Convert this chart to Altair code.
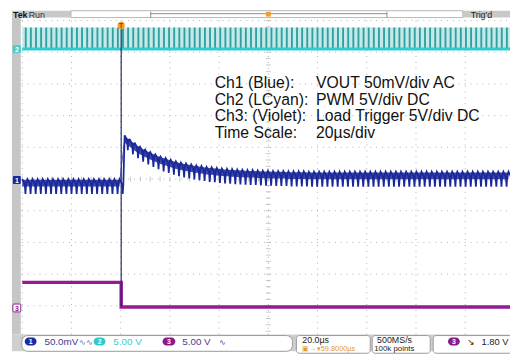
import altair as alt
import pandas as pd

# ---------------- values ----------------
us_per_div = 20.0
trigger_us = -59.8
trace_start_us = -100.0
switch_period_us = 2.08

# Ch1 VOUT (screen divisions, 50 mV/div AC): top of ripple band, one value per switching cycle
vout_top_pre = [0.0, 0.0, 0.0, 0.0, 0.0, 0.0, 0.0, 0.0, 0.0, 0.0,
                0.0, 0.0, 0.0, 0.0, 0.0, 0.0, 0.0, 0.0, 0.0, 0.0]
vout_top_post = [1.38, 1.25, 1.13, 1.02, 0.93, 0.85, 0.78, 0.71, 0.66, 0.61,
                 0.56, 0.52, 0.49, 0.46, 0.43, 0.41, 0.38, 0.37, 0.35, 0.33,
                 0.32, 0.31, 0.30, 0.29, 0.28, 0.28, 0.27, 0.26, 0.26, 0.25,
                 0.25, 0.25, 0.24, 0.24, 0.24, 0.24, 0.23, 0.23, 0.23, 0.23,
                 0.23, 0.23, 0.23, 0.23, 0.23, 0.23, 0.23, 0.23, 0.23, 0.23,
                 0.23, 0.23, 0.23, 0.23, 0.23, 0.23, 0.23, 0.23, 0.23, 0.23,
                 0.23, 0.23, 0.23, 0.23, 0.23, 0.23, 0.23, 0.23, 0.23, 0.23,
                 0.23, 0.23, 0.23, 0.23, 0.23, 0.23]
vout_ripple_pp = 0.47
ripple_phase = [0.0, 0.3, 0.5, 0.62, 0.75]
ripple_depth = [0.0, 0.2, 0.4, 1.0, 0.3]
band_depth = [0.05, 0.5]

# Ch2 PWM (screen divisions)
pwm_low = 4.10
pwm_high = 4.78
pwm_on_us = 0.75
pwm_phase = 0.5

# Ch3 load trigger (screen divisions): before / after the trigger
load_levels = [-3.26, -4.04]

# graticule
grid_x_div = [-5, -4, -3, -2, -1, 0, 1, 2, 3, 4, 5]
grid_y_div = [-5, -4, -3, -2, -1, 0, 1, 2, 3, 4, 5]

legend_labels = ["Ch1 (Blue):", "Ch2 (LCyan):", "Ch3: (Violet):", "Time Scale:"]
legend_values = ["VOUT 50mV/div AC", "PWM 5V/div DC", "Load Trigger 5V/div DC", "20µs/div"]

# ---------------- tables built from the values ----------------
tops = vout_top_pre + vout_top_post
vout_rows, band_rows, pwm_rows = [], [], []
for k, top in enumerate(tops):
    t0 = trace_start_us + k * switch_period_us
    for ph, dp in zip(ripple_phase, ripple_depth):
        vout_rows.append({"t": t0 + ph * switch_period_us, "v": top - vout_ripple_pp * dp})
    band_rows.append({"t": t0, "hi": top - vout_ripple_pp * band_depth[0],
                      "lo": top - vout_ripple_pp * band_depth[1]})
    ts = t0 + pwm_phase * switch_period_us
    pwm_rows.append({"t": ts, "t2": ts + pwm_on_us, "lo": pwm_low, "hi": pwm_high})
vout = pd.DataFrame(vout_rows)
vout["i"] = range(len(vout))
band = pd.DataFrame(band_rows)
pwm = pd.DataFrame(pwm_rows)

t_end = trace_start_us + len(tops) * switch_period_us
load = pd.DataFrame({
    "t": [trace_start_us, trigger_us, trigger_us, t_end],
    "v": [load_levels[0], load_levels[0], load_levels[1], load_levels[1]],
    "i": [0, 1, 2, 3],
})
pwm_base = pd.DataFrame({"t": [trace_start_us, t_end], "v": [pwm_low, pwm_low]})
pwm_band = pd.DataFrame({"t": [trace_start_us], "t2": [t_end], "lo": [pwm_low], "hi": [pwm_high]})
trig = pd.DataFrame({"t": [trigger_us], "lo": [load_levels[1]], "hi": [pwm_high]})

gx = pd.DataFrame({"t": [d * us_per_div for d in grid_x_div]})
gy = pd.DataFrame({"v": grid_y_div})
minor_v = pd.DataFrame({"v": [i / 5 for i in range(-25, 26)]})
minor_t = pd.DataFrame({"t": [i * us_per_div / 5 for i in range(-25, 26)]})

xs = alt.Scale(domain=[-105.8, 98.2], nice=False, zero=False)
ys = alt.Scale(domain=[-5.435, 5.311], nice=False, zero=False)
X = lambda f: alt.X(f, type="quantitative", scale=xs, axis=None)
Y = lambda f: alt.Y(f, type="quantitative", scale=ys, axis=None)

dummy = pd.DataFrame({"d": [0]})


def box(x1, x2, y1, y2, fill, stroke=None, r=0, sw=1):
    kw = dict(fill=fill, cornerRadius=r)
    if stroke:
        kw["stroke"] = stroke
        kw["strokeWidth"] = sw
    return alt.Chart(dummy).mark_rect(**kw).encode(
        x=alt.value(x1), x2=alt.value(x2), y=alt.value(y1), y2=alt.value(y2))


def label(txt, x, y, size=10, color="#111111", weight="normal",
          font="Liberation Sans", align="left", baseline="alphabetic"):
    return alt.Chart(dummy).mark_text(
        text=txt, fontSize=size, color=color, fontWeight=weight, font=font,
        align=align, baseline=baseline).encode(x=alt.value(x), y=alt.value(y))


layers = []
# frames / bars
layers.append(box(4, 13, 7, 329, "#c6c6c6"))
layers.append(box(4, 510, 329, 346, "#cfcfcf"))
layers.append(box(4, 64, 0, 7, "#c8c8c8"))
layers.append(box(64, 462, 0, 7, "#ffffff", stroke="#b5b5b5"))
layers.append(box(462, 510, 0, 7, "#c8c8c8"))

# graticule
layers.append(alt.Chart(gx).mark_rule(color="#b0b0b0", strokeDash=[1, 5], strokeWidth=1).encode(
    x=X("t"), y=alt.value(10), y2=alt.value(332)))
layers.append(alt.Chart(gy).mark_rule(color="#b0b0b0", strokeDash=[1, 5], strokeWidth=1).encode(
    y=Y("v"), x=alt.value(14), x2=alt.value(510)))
layers.append(alt.Chart(minor_v).mark_tick(orient="horizontal", size=5, color="#b0b0b0", thickness=1).encode(
    y=Y("v"), x=alt.value(264.5)))
layers.append(alt.Chart(minor_t).mark_tick(orient="vertical", size=5, color="#b0b0b0", thickness=1).encode(
    x=X("t"), y=alt.value(171)))

# Ch2 PWM
layers.append(alt.Chart(pwm_band).mark_rect(color="#c4e9e9").encode(
    x=X("t"), x2="t2", y=Y("lo"), y2="hi"))
layers.append(alt.Chart(pwm).mark_rect(color="#2f9f9f").encode(
    x=X("t"), x2="t2", y=Y("lo"), y2="hi"))
layers.append(alt.Chart(pwm_base).mark_line(color="#33cccc", strokeWidth=3).encode(
    x=X("t"), y=Y("v")))

# Ch3 load trigger
layers.append(alt.Chart(load).mark_line(color="#961a93", strokeWidth=3.5).encode(
    x=X("t"), y=Y("v"), order="i:Q"))

# Ch1 VOUT
layers.append(alt.Chart(band).mark_area(color="#1a289a", opacity=0.85).encode(
    x=X("t"), y=Y("hi"), y2="lo"))
layers.append(alt.Chart(vout).mark_line(color="#1a289a", strokeWidth=1.8).encode(
    x=X("t"), y=Y("v"), order="i:Q"))

# trigger line
layers.append(alt.Chart(trig).mark_rule(color="#232a6e", strokeWidth=1.2).encode(
    x=X("t"), y=Y("lo"), y2="hi"))

# top bar content
layers.append(label("Tek", 5, 7, size=9, weight="bold"))
layers.append(label("Run", 21, 7, size=9, color="#333333"))
layers.append(alt.Chart(dummy).mark_rule(color="#8a8a8a").encode(
    x=alt.value(145), x2=alt.value(385), y=alt.value(3)))
layers.append(alt.Chart(dummy).mark_rule(color="#8a8a8a").encode(
    x=alt.value(145), y=alt.value(1), y2=alt.value(7)))
layers.append(alt.Chart(dummy).mark_rule(color="#8a8a8a").encode(
    x=alt.value(385), y=alt.value(1), y2=alt.value(7)))
layers.append(box(262, 267, 1, 6, "#f0a030"))
layers.append(label("Trig'd", 470, 7, size=9, color="#222222"))
layers.append(alt.Chart(dummy).mark_point(filled=True, size=55, color="#f0a030", opacity=1).encode(
    x=alt.value(115), y=alt.value(15)))
layers.append(label("T", 115, 18, size=7, color="#8a4a00", weight="bold", align="center"))

# channel markers
layers.append(box(5, 13, 35, 43, "#3fcfcf", r=1))
layers.append(label("2", 9, 42, size=7, color="#ffffff", weight="bold", align="center"))
layers.append(box(5, 13, 168, 176, "#1a289a", r=1))
layers.append(label("1", 9, 175, size=7, color="#ffffff", weight="bold", align="center"))
layers.append(box(5, 13, 298, 306, "#ffffff", stroke="#93168f", r=1))
layers.append(label("3", 9, 305, size=7, color="#93168f", weight="bold", align="center"))

# annotation text block
for i, (a, b) in enumerate(zip(legend_labels, legend_values)):
    layers.append(label(a, 210, 78.5 + 17 * i, size=16))
    layers.append(label(b, 313, 78.5 + 17 * i, size=16))

# status bar
layers.append(box(14, 289, 330, 346, "#ffffff", stroke="#9a9a9a", r=6))
layers.append(box(293, 368, 330, 348, "#ffffff", stroke="#9a9a9a", r=3))
layers.append(box(370, 429, 330, 348, "#ffffff", stroke="#9a9a9a", r=3))
layers.append(box(432, 512, 330, 348, "#ffffff", stroke="#9a9a9a", r=3))
layers.append(box(17, 29, 332, 340, "#1c2ca0", r=4))
layers.append(label("1", 23, 339, size=7, color="#ffffff", weight="bold", align="center"))
layers.append(label("50.0mV", 37, 340, size=10, color="#2d3f96"))
layers.append(label("∿∿", 72, 340, size=8, color="#5a6ea8"))
layers.append(box(87, 99, 332, 340, "#30c8c8", r=4))
layers.append(label("2", 93, 339, size=7, color="#ffffff", weight="bold", align="center"))
layers.append(label("5.00 V", 107, 340, size=10, color="#40cccc"))
layers.append(box(157, 170, 332, 340, "#8a1a8a", r=4))
layers.append(label("3", 163.5, 339, size=7, color="#ffffff", weight="bold", align="center"))
layers.append(label("5.00 V", 177, 340, size=10, color="#4a3a90"))
layers.append(label("∿", 214, 340, size=8, color="#4a3a90"))
layers.append(label("20.0µs", 299, 337.5, size=9, color="#222222"))
layers.append(label("▣→▾59.8000µs", 299, 346, size=7.5, color="#e39a2a"))
layers.append(label("500MS/s", 375, 337.5, size=9, color="#222222"))
layers.append(label("100k points", 372, 346, size=8, color="#222222"))
layers.append(box(447, 459, 332, 340, "#8a1a8a", r=4))
layers.append(label("3", 453, 339, size=7, color="#ffffff", weight="bold", align="center"))
layers.append(label("↘", 466, 340, size=9, color="#222222"))
layers.append(label("1.80 V", 481, 340, size=9.5, color="#222222"))

chart = alt.layer(*layers).properties(
    width=510, height=346, padding=0,
    autosize=alt.AutoSizeParams(type="none"),
    background="#ffffff",
).configure_view(stroke="transparent")

chart.save("out.html", embed_options={"renderer": "svg", "actions": False})
